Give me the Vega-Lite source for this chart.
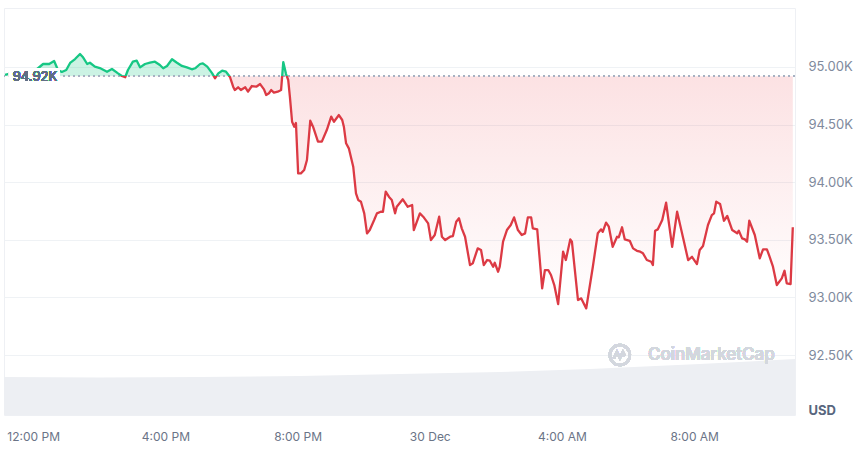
{
  "$schema": "https://vega.github.io/schema/vega-lite/v6.json",
  "width": 791,
  "height": 407,
  "autosize": {"type": "none"},
  "padding": {"left": 4, "top": 8, "right": 65, "bottom": 35},
  "background": "white",
  "config": {"view": {"stroke": "#eef0f4", "strokeWidth": 1}, "font": "Inter"},
  "datasets": {
    "price": [
      {"t": "2024-12-29T11:09", "p": 94931}, {"t": "2024-12-29T11:21", "p": 94948}, {"t": "2024-12-29T11:36", "p": 94965}, {"t": "2024-12-29T11:51", "p": 94957},
      {"t": "2024-12-29T12:05", "p": 94974}, {"t": "2024-12-29T12:18", "p": 95026}, {"t": "2024-12-29T12:29", "p": 95026}, {"t": "2024-12-29T12:38", "p": 95052},
      {"t": "2024-12-29T12:45", "p": 94974}, {"t": "2024-12-29T12:52", "p": 94957}, {"t": "2024-12-29T13:00", "p": 94974}, {"t": "2024-12-29T13:07", "p": 95035},
      {"t": "2024-12-29T13:16", "p": 95069}, {"t": "2024-12-29T13:25", "p": 95113}, {"t": "2024-12-29T13:30", "p": 95087}, {"t": "2024-12-29T13:38", "p": 95026},
      {"t": "2024-12-29T13:43", "p": 95037}, {"t": "2024-12-29T13:52", "p": 95003}, {"t": "2024-12-29T14:01", "p": 94991}, {"t": "2024-12-29T14:14", "p": 94959},
      {"t": "2024-12-29T14:23", "p": 94983}, {"t": "2024-12-29T14:34", "p": 94945}, {"t": "2024-12-29T14:41", "p": 94922}, {"t": "2024-12-29T14:47", "p": 94911},
      {"t": "2024-12-29T14:52", "p": 94974}, {"t": "2024-12-29T15:01", "p": 95046}, {"t": "2024-12-29T15:08", "p": 95055}, {"t": "2024-12-29T15:14", "p": 94997},
      {"t": "2024-12-29T15:23", "p": 95026}, {"t": "2024-12-29T15:32", "p": 95037}, {"t": "2024-12-29T15:41", "p": 95046}, {"t": "2024-12-29T15:50", "p": 95017},
      {"t": "2024-12-29T15:56", "p": 94989}, {"t": "2024-12-29T16:03", "p": 95009}, {"t": "2024-12-29T16:12", "p": 95067}, {"t": "2024-12-29T16:21", "p": 95037},
      {"t": "2024-12-29T16:30", "p": 95009}, {"t": "2024-12-29T16:39", "p": 94997}, {"t": "2024-12-29T16:48", "p": 94980}, {"t": "2024-12-29T16:54", "p": 94989},
      {"t": "2024-12-29T17:03", "p": 95026}, {"t": "2024-12-29T17:08", "p": 95032}, {"t": "2024-12-29T17:16", "p": 95003}, {"t": "2024-12-29T17:25", "p": 94945},
      {"t": "2024-12-29T17:30", "p": 94902}, {"t": "2024-12-29T17:36", "p": 94945}, {"t": "2024-12-29T17:43", "p": 94968}, {"t": "2024-12-29T17:50", "p": 94959},
      {"t": "2024-12-29T17:57", "p": 94916}, {"t": "2024-12-29T18:03", "p": 94829}, {"t": "2024-12-29T18:06", "p": 94800}, {"t": "2024-12-29T18:12", "p": 94824},
      {"t": "2024-12-29T18:17", "p": 94800}, {"t": "2024-12-29T18:25", "p": 94824}, {"t": "2024-12-29T18:30", "p": 94786}, {"t": "2024-12-29T18:37", "p": 94835},
      {"t": "2024-12-29T18:45", "p": 94829}, {"t": "2024-12-29T18:52", "p": 94852}, {"t": "2024-12-29T18:59", "p": 94806}, {"t": "2024-12-29T19:03", "p": 94757},
      {"t": "2024-12-29T19:08", "p": 94772}, {"t": "2024-12-29T19:12", "p": 94800}, {"t": "2024-12-29T19:17", "p": 94777}, {"t": "2024-12-29T19:24", "p": 94786},
      {"t": "2024-12-29T19:30", "p": 94800}, {"t": "2024-12-29T19:34", "p": 95043}, {"t": "2024-12-29T19:39", "p": 94939}, {"t": "2024-12-29T19:43", "p": 94887},
      {"t": "2024-12-29T19:46", "p": 94742}, {"t": "2024-12-29T19:50", "p": 94525}, {"t": "2024-12-29T19:54", "p": 94482}, {"t": "2024-12-29T19:57", "p": 94514},
      {"t": "2024-12-29T20:01", "p": 94077}, {"t": "2024-12-29T20:06", "p": 94077}, {"t": "2024-12-29T20:12", "p": 94106}, {"t": "2024-12-29T20:17", "p": 94193},
      {"t": "2024-12-29T20:23", "p": 94534}, {"t": "2024-12-29T20:28", "p": 94482}, {"t": "2024-12-29T20:37", "p": 94352}, {"t": "2024-12-29T20:44", "p": 94352},
      {"t": "2024-12-29T20:53", "p": 94453}, {"t": "2024-12-29T21:01", "p": 94569}, {"t": "2024-12-29T21:06", "p": 94525}, {"t": "2024-12-29T21:15", "p": 94583},
      {"t": "2024-12-29T21:21", "p": 94540}, {"t": "2024-12-29T21:24", "p": 94482}, {"t": "2024-12-29T21:28", "p": 94338}, {"t": "2024-12-29T21:33", "p": 94294},
      {"t": "2024-12-29T21:41", "p": 94135}, {"t": "2024-12-29T21:46", "p": 93904}, {"t": "2024-12-29T21:50", "p": 93846}, {"t": "2024-12-29T21:55", "p": 93831},
      {"t": "2024-12-29T22:01", "p": 93730}, {"t": "2024-12-29T22:06", "p": 93556}, {"t": "2024-12-29T22:11", "p": 93585}, {"t": "2024-12-29T22:19", "p": 93672},
      {"t": "2024-12-29T22:24", "p": 93730}, {"t": "2024-12-29T22:31", "p": 93744}, {"t": "2024-12-29T22:35", "p": 93744}, {"t": "2024-12-29T22:40", "p": 93918},
      {"t": "2024-12-29T22:46", "p": 93872}, {"t": "2024-12-29T22:51", "p": 93846}, {"t": "2024-12-29T22:57", "p": 93730}, {"t": "2024-12-29T23:00", "p": 93787},
      {"t": "2024-12-29T23:11", "p": 93852}, {"t": "2024-12-29T23:20", "p": 93787}, {"t": "2024-12-29T23:28", "p": 93802}, {"t": "2024-12-29T23:31", "p": 93585},
      {"t": "2024-12-29T23:42", "p": 93730}, {"t": "2024-12-29T23:48", "p": 93701}, {"t": "2024-12-29T23:57", "p": 93643}, {"t": "2024-12-30T00:02", "p": 93498},
      {"t": "2024-12-30T00:09", "p": 93542}, {"t": "2024-12-30T00:17", "p": 93701}, {"t": "2024-12-30T00:22", "p": 93527}, {"t": "2024-12-30T00:28", "p": 93498},
      {"t": "2024-12-30T00:37", "p": 93527}, {"t": "2024-12-30T00:42", "p": 93533}, {"t": "2024-12-30T00:48", "p": 93657}, {"t": "2024-12-30T00:53", "p": 93687},
      {"t": "2024-12-30T00:58", "p": 93600}, {"t": "2024-12-30T01:04", "p": 93527}, {"t": "2024-12-30T01:13", "p": 93281}, {"t": "2024-12-30T01:18", "p": 93296},
      {"t": "2024-12-30T01:27", "p": 93426}, {"t": "2024-12-30T01:33", "p": 93412}, {"t": "2024-12-30T01:38", "p": 93281}, {"t": "2024-12-30T01:44", "p": 93325},
      {"t": "2024-12-30T01:49", "p": 93319}, {"t": "2024-12-30T01:55", "p": 93267}, {"t": "2024-12-30T01:58", "p": 93301}, {"t": "2024-12-30T02:04", "p": 93223},
      {"t": "2024-12-30T02:07", "p": 93267}, {"t": "2024-12-30T02:13", "p": 93484}, {"t": "2024-12-30T02:20", "p": 93585}, {"t": "2024-12-30T02:27", "p": 93629},
      {"t": "2024-12-30T02:33", "p": 93695}, {"t": "2024-12-30T02:40", "p": 93585}, {"t": "2024-12-30T02:47", "p": 93542}, {"t": "2024-12-30T02:53", "p": 93556},
      {"t": "2024-12-30T02:58", "p": 93695}, {"t": "2024-12-30T03:04", "p": 93695}, {"t": "2024-12-30T03:07", "p": 93600}, {"t": "2024-12-30T03:15", "p": 93591},
      {"t": "2024-12-30T03:24", "p": 93079}, {"t": "2024-12-30T03:29", "p": 93238}, {"t": "2024-12-30T03:35", "p": 93238}, {"t": "2024-12-30T03:40", "p": 93195},
      {"t": "2024-12-30T03:46", "p": 93108}, {"t": "2024-12-30T03:53", "p": 92943}, {"t": "2024-12-30T04:02", "p": 93397}, {"t": "2024-12-30T04:07", "p": 93325},
      {"t": "2024-12-30T04:15", "p": 93504}, {"t": "2024-12-30T04:18", "p": 93484}, {"t": "2024-12-30T04:29", "p": 92978}, {"t": "2024-12-30T04:35", "p": 92992},
      {"t": "2024-12-30T04:44", "p": 92905}, {"t": "2024-12-30T04:56", "p": 93267}, {"t": "2024-12-30T05:05", "p": 93557}, {"t": "2024-12-30T05:11", "p": 93591},
      {"t": "2024-12-30T05:14", "p": 93570}, {"t": "2024-12-30T05:20", "p": 93649}, {"t": "2024-12-30T05:25", "p": 93614}, {"t": "2024-12-30T05:32", "p": 93440},
      {"t": "2024-12-30T05:40", "p": 93527}, {"t": "2024-12-30T05:43", "p": 93522}, {"t": "2024-12-30T05:49", "p": 93609}, {"t": "2024-12-30T05:54", "p": 93504},
      {"t": "2024-12-30T06:03", "p": 93492}, {"t": "2024-12-30T06:09", "p": 93426}, {"t": "2024-12-30T06:16", "p": 93405}, {"t": "2024-12-30T06:22", "p": 93397},
      {"t": "2024-12-30T06:27", "p": 93383}, {"t": "2024-12-30T06:34", "p": 93325}, {"t": "2024-12-30T06:42", "p": 93310}, {"t": "2024-12-30T06:45", "p": 93281},
      {"t": "2024-12-30T06:49", "p": 93579}, {"t": "2024-12-30T06:54", "p": 93591}, {"t": "2024-12-30T07:02", "p": 93672}, {"t": "2024-12-30T07:09", "p": 93822},
      {"t": "2024-12-30T07:20", "p": 93440}, {"t": "2024-12-30T07:29", "p": 93744}, {"t": "2024-12-30T07:40", "p": 93513}, {"t": "2024-12-30T07:49", "p": 93325},
      {"t": "2024-12-30T07:56", "p": 93353}, {"t": "2024-12-30T08:05", "p": 93290}, {"t": "2024-12-30T08:10", "p": 93412}, {"t": "2024-12-30T08:16", "p": 93446},
      {"t": "2024-12-30T08:25", "p": 93629}, {"t": "2024-12-30T08:32", "p": 93715}, {"t": "2024-12-30T08:36", "p": 93730}, {"t": "2024-12-30T08:40", "p": 93831},
      {"t": "2024-12-30T08:47", "p": 93811}, {"t": "2024-12-30T08:54", "p": 93666}, {"t": "2024-12-30T09:00", "p": 93707}, {"t": "2024-12-30T09:09", "p": 93585},
      {"t": "2024-12-30T09:18", "p": 93557}, {"t": "2024-12-30T09:21", "p": 93579}, {"t": "2024-12-30T09:27", "p": 93513}, {"t": "2024-12-30T09:32", "p": 93504},
      {"t": "2024-12-30T09:36", "p": 93484}, {"t": "2024-12-30T09:40", "p": 93666}, {"t": "2024-12-30T09:50", "p": 93542}, {"t": "2024-12-30T09:59", "p": 93340},
      {"t": "2024-12-30T10:05", "p": 93418}, {"t": "2024-12-30T10:12", "p": 93418}, {"t": "2024-12-30T10:17", "p": 93353}, {"t": "2024-12-30T10:23", "p": 93267},
      {"t": "2024-12-30T10:30", "p": 93108}, {"t": "2024-12-30T10:39", "p": 93166}, {"t": "2024-12-30T10:44", "p": 93232}, {"t": "2024-12-30T10:48", "p": 93123},
      {"t": "2024-12-30T10:55", "p": 93116}, {"t": "2024-12-30T10:59", "p": 93609}
    ],
    "vol": [
      {"t": "2024-12-29T11:07", "v": 3.73}, {"t": "2024-12-29T14:01", "v": 3.69}, {"t": "2024-12-29T17:03", "v": 3.73},
      {"t": "2024-12-29T20:04", "v": 3.83}, {"t": "2024-12-29T23:06", "v": 4.03}, {"t": "2024-12-30T02:07", "v": 4.23},
      {"t": "2024-12-30T04:51", "v": 4.52}, {"t": "2024-12-30T08:10", "v": 5.01}, {"t": "2024-12-30T11:03", "v": 5.5}
    ]
  },
  "layer": [
    {
      "data": {"name": "vol"},
      "mark": {"type": "area", "color": "#edeff3", "opacity": 1},
      "encoding": {
        "x": {
          "field": "t", "type": "temporal", "title": null,
          "scale": {"domain": [{"year": 2024, "month": 12, "date": 29, "hours": 11, "minutes": 7}, {"year": 2024, "month": 12, "date": 30, "hours": 11, "minutes": 3}]},
          "axis": {
            "values": [
              {"year": 2024, "month": 12, "date": 29, "hours": 12},
              {"year": 2024, "month": 12, "date": 29, "hours": 16},
              {"year": 2024, "month": 12, "date": 29, "hours": 20},
              {"year": 2024, "month": 12, "date": 30, "hours": 0},
              {"year": 2024, "month": 12, "date": 30, "hours": 4},
              {"year": 2024, "month": 12, "date": 30, "hours": 8}
            ],
            "labelExpr": "hours(datum.value) == 0 ? timeFormat(datum.value, '%-d %b') : timeFormat(datum.value, '%-I:%M %p')",
            "grid": false, "domain": false, "ticks": false, "tickSize": 0,
            "labelPadding": 16, "labelFont": "Inter", "labelFontSize": 12, "labelColor": "#6b7487",
            "labelFlush": false, "labelOverlap": false, "title": null
          }
        },
        "y": {"field": "v", "type": "quantitative", "scale": {"domain": [0, 40]}, "axis": null}
      }
    },
    {
      "data": {"name": "price"},
      "layer": [
        {
          "mark": {
            "type": "area",
            "fill": {
              "gradient": "linear", "x1": 0, "y1": 0, "x2": 0, "y2": 1,
              "stops": [
                {"offset": 0, "color": "rgba(22,199,132,0.22)"},
                {"offset": 0.0874, "color": "rgba(22,199,132,0.22)"},
                {"offset": 0.0874, "color": "rgba(234,57,67,0.15)"},
                {"offset": 1, "color": "rgba(234,57,67,0.0)"}
              ]
            }
          },
          "encoding": {
            "x": {"field": "t", "type": "temporal", "title": null},
            "y": {
              "field": "p", "type": "quantitative", "title": "USD",
              "scale": {"domain": [91980, 95512], "nice": false, "zero": false},
              "axis": {
                "orient": "right",
                "values": [92500, 93000, 93500, 94000, 94500, 95000],
                "labelExpr": "format(datum.value / 1000, '.2f') + 'K'",
                "grid": true, "gridColor": "#eff2f5", "gridWidth": 1,
                "domain": false, "ticks": false, "tickSize": 0,
                "labelPadding": 13, "labelFont": "Inter", "labelFontSize": 13, "labelColor": "#808a9d",
                "labelAlign": "left", "labelBaseline": "middle",
                "title": "USD", "titleAngle": 0, "titleX": 13, "titleY": 402,
                "titleAlign": "left", "titleBaseline": "middle",
                "titleFont": "Inter", "titleFontSize": 13, "titleFontWeight": "bold", "titleColor": "#58667e"
              }
            },
            "y2": {"datum": 94920}
          }
        },
        {
          "mark": {"type": "rule", "color": "#a6b0c3", "strokeWidth": 1, "strokeDash": [1.5, 3.5]},
          "encoding": {"y": {"datum": 94920, "type": "quantitative"}}
        },
        {
          "mark": {
            "type": "line", "strokeWidth": 2.3, "strokeJoin": "round",
            "stroke": {
              "gradient": "linear", "x1": 0, "y1": 0, "x2": 0, "y2": 1,
              "stops": [
                {"offset": 0, "color": "#16c784"},
                {"offset": 0.0874, "color": "#16c784"},
                {"offset": 0.0874, "color": "#dc3a44"},
                {"offset": 1, "color": "#dc3a44"}
              ]
            }
          },
          "encoding": {
            "x": {"field": "t", "type": "temporal"},
            "y": {"field": "p", "type": "quantitative"}
          }
        },
        {
          "mark": {"type": "rect", "fill": "white"},
          "encoding": {
            "x": {"datum": {"year": 2024, "month": 12, "date": 29, "hours": 11, "minutes": 16}, "type": "temporal"},
            "x2": {"datum": {"year": 2024, "month": 12, "date": 29, "hours": 12, "minutes": 48}},
            "y": {"datum": 94991, "type": "quantitative"},
            "y2": {"datum": 94852}
          }
        },
        {
          "mark": {"type": "text", "text": "94.92K", "align": "left", "baseline": "middle", "font": "Inter", "fontSize": 13, "color": "#616e85", "dy": 1},
          "encoding": {
            "x": {"datum": {"year": 2024, "month": 12, "date": 29, "hours": 11, "minutes": 23}, "type": "temporal"},
            "y": {"datum": 94920, "type": "quantitative"}
          }
        },
        {
          "mark": {"type": "point", "shape": "circle", "size": 400, "filled": false, "stroke": "#d3d7de", "strokeWidth": 2.5, "opacity": 1},
          "encoding": {
            "x": {"datum": {"year": 2024, "month": 12, "date": 30, "hours": 5, "minutes": 45}, "type": "temporal"},
            "y": {"datum": 92500, "type": "quantitative"}
          }
        },
        {
          "mark": {"type": "point", "shape": "M -0.6 0.35 L -0.3 -0.3 L 0 0.3 L 0.3 -0.3 L 0.5 0.1", "size": 400, "filled": false, "stroke": "#d3d7de", "strokeWidth": 2.5, "opacity": 1},
          "encoding": {
            "x": {"datum": {"year": 2024, "month": 12, "date": 30, "hours": 5, "minutes": 45}, "type": "temporal"},
            "y": {"datum": 92500, "type": "quantitative"}
          }
        },
        {
          "mark": {"type": "text", "text": "CoinMarketCap", "align": "left", "baseline": "middle", "font": "Inter", "fontSize": 17, "fontWeight": 500, "color": "#d3d7de"},
          "encoding": {
            "x": {"datum": {"year": 2024, "month": 12, "date": 30, "hours": 6, "minutes": 36}, "type": "temporal"},
            "y": {"datum": 92500, "type": "quantitative"}
          }
        }
      ]
    }
  ],
  "resolve": {"scale": {"y": "independent"}}
}
